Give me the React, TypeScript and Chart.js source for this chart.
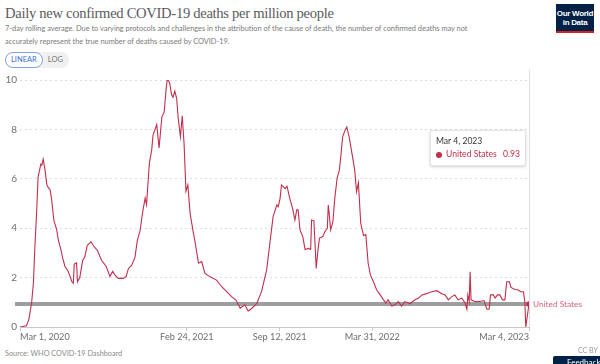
import React, { useEffect, useRef } from "react";
import { Chart, registerables } from "chart.js";

Chart.register(...registerables);

// Days since Mar 1, 2020
const days = [
  0, 14, 19, 25, 29, 32, 36, 39, 45, 47, 50, 54, 58, 61, 65, 68, 73, 79, 83, 88, 92, 97, 104, 112, 115, 117, 122, 124, 129, 135,
  140, 145, 153, 160, 167, 176, 186, 194, 200, 205, 212, 223, 229, 234, 241, 248, 253, 259, 265, 270, 273, 279, 284, 287, 295, 300,
  306, 311, 315, 318, 323, 327, 330, 334, 338, 341, 346, 350, 354, 358, 362, 367, 374, 377, 385, 392, 399, 410, 424, 435, 446, 457,
  466, 475, 485, 492, 500, 511, 521, 532, 539, 546, 554, 557, 561, 564, 572, 576, 582, 588, 593, 597, 600, 604, 610, 615, 622, 627,
  629, 634, 639, 642, 646, 653, 658, 663, 665, 667, 670, 675, 679, 684, 689, 692, 696, 701, 705, 710, 715, 722, 726, 730, 735, 741,
  746, 751, 756, 762, 769, 777, 784, 787, 789, 794, 802, 809, 816, 823, 830, 841, 852, 860, 867, 877, 888, 899, 910, 917, 924, 931,
  938, 945, 953, 960, 964, 966, 969, 971, 973, 981, 992, 1001, 1007, 1012, 1015, 1021, 1025, 1030, 1035, 1041, 1046, 1050, 1056, 1059,
  1068, 1075, 1080, 1086, 1089, 1091, 1098,
];

// Daily new confirmed deaths per million (7-day avg), United States
const deaths = [
  0, 0.05, 0.3, 0.97, 1.8, 3.2, 4.7, 6.07, 6.6, 6.55, 6.8, 6.35, 5.75, 5.65, 5.55, 5.2, 4.33, 3.95, 3.5, 3.15, 2.8, 2.45, 2.25, 1.83, 1.77, 2.55, 2.6, 1.83, 2.0, 2.68,
  2.85, 3.3, 3.45, 3.25, 3.1, 2.7, 2.45, 2.05, 2.25, 2.1, 1.97, 1.97, 2.05, 2.37, 2.5, 2.82, 3.5, 3.9, 4.7, 5.22, 4.95, 6.63, 7.15, 7.77, 8.2, 7.25,
  8.5, 8.7, 9.6, 10.07, 9.87, 9.4, 9.3, 9.55, 9.25, 8.5, 7.7, 8.55, 7.4, 5.5, 5.75, 4.6, 3.8, 3.52, 2.58, 2.65, 2.17, 2.03, 1.9, 1.63, 1.43, 1.22,
  1.09, 0.76, 0.9, 0.65, 0.75, 0.96, 1.43, 2.3, 3.39, 4.47, 4.94, 4.87, 5.2, 5.75, 5.6, 5.7, 5.2, 4.8, 4.33, 4.74, 4.74, 3.93, 3.66, 3.14, 3.18, 3.14,
  4.33, 4.3, 2.37, 2.98, 3.6, 3.66, 3.87, 4.0, 4.94, 4.6, 3.93, 4.27, 5.2, 6.02, 6.36, 6.9, 7.7, 7.96, 8.1, 7.7, 7.15, 6.36, 5.48, 5.84, 4.2, 3.7,
  3.74, 2.58, 2.1, 1.85, 1.52, 1.3, 1.1, 1.03, 0.96, 1.1, 0.85, 0.9, 1.03, 0.85, 1.03, 0.94, 1.1, 1.17, 1.3, 1.35, 1.43, 1.47, 1.35, 1.3, 1.1, 1.22,
  1.3, 1.1, 1.17, 0.97, 0.72, 1.3, 1.03, 2.24, 1.1, 1.03, 1.03, 1.07, 0.72, 0.72, 1.3, 1.3, 1.17, 1.3, 1.3, 1.1, 1.1, 1.83, 1.83, 1.6,
  1.52, 1.5, 1.43, 1.43, 1.03, 0, 0.93,
];

const tickDays = [0, 360, 560, 760, 1098];
const tickLabels = ["Mar 1, 2020", "Feb 24, 2021", "Sep 12, 2021", "Mar 31, 2022", "Mar 4, 2023"];
const yTicks = [0, 2, 4, 6, 8, 10];
const seriesName = "United States";
const hoverValue = 0.93;
const hoverDate = "Mar 4, 2023";

const LINE = "#c22e4c";
const FONT = "Lato, 'Noto Sans', sans-serif";

export default function App() {
  const ref = useRef<HTMLCanvasElement | null>(null);

  useEffect(() => {
    const canvas = ref.current;
    if (!canvas) return;
    const overlay = {
      id: "overlay",
      beforeDatasetsDraw(chart: any) {
        const { ctx, chartArea, scales } = chart;
        const x = scales.x;
        const y = scales.y;
        ctx.save();
        const hx = x.getPixelForValue(days[days.length - 1]);
        ctx.strokeStyle = "#dedede";
        ctx.lineWidth = 1;
        ctx.beginPath();
        ctx.moveTo(hx + 0.5, chartArea.top - 10);
        ctx.lineTo(hx + 0.5, chartArea.bottom);
        ctx.stroke();
        const gy = y.getPixelForValue(hoverValue);
        ctx.strokeStyle = "#9e9e9e";
        ctx.lineWidth = 4;
        ctx.beginPath();
        ctx.moveTo(chartArea.left - 5, gy);
        ctx.lineTo(chartArea.right, gy);
        ctx.stroke();
        ctx.restore();
      },
      afterDraw(chart: any) {
        const { ctx, chartArea, scales } = chart;
        const x = scales.x;
        const y = scales.y;
        ctx.save();
        ctx.font = "9.2px " + FONT;
        ctx.fillStyle = "#6e6e6e";
        ctx.textBaseline = "middle";
        tickDays.forEach((d, i) => {
          const px = x.getPixelForValue(d);
          ctx.textAlign = i === 0 ? "left" : i === tickDays.length - 1 ? "right" : "center";
          ctx.fillText(tickLabels[i], px, chartArea.bottom + 10);
        });
        const lx = x.getPixelForValue(days[days.length - 1]);
        const ly = y.getPixelForValue(deaths[deaths.length - 1]);
        ctx.font = "8.3px " + FONT;
        ctx.fillStyle = "#d0637b";
        ctx.textAlign = "left";
        ctx.fillText(seriesName, lx + 4, ly + 0.5);
        ctx.restore();
      },
    };
    const chart = new Chart(canvas, {
      type: "line",
      data: {
        datasets: [
          {
            label: seriesName,
            data: days.map((d, i) => ({ x: d, y: deaths[i] })),
            borderColor: LINE,
            backgroundColor: LINE,
            borderWidth: 1.1,
            tension: 0,
            pointRadius: (c: any) => (c.dataIndex === days.length - 1 ? 2.8 : 0),
            pointBorderWidth: 0,
          },
        ],
      },
      options: {
        animation: false,
        responsive: false,
        devicePixelRatio: 1,
        layout: { padding: { left: 0, right: 71, top: 10, bottom: 0 } },
        plugins: { legend: { display: false }, tooltip: { enabled: false } },
        events: [],
        scales: {
          x: {
            type: "linear",
            min: days[0],
            max: days[days.length - 1],
            afterBuildTicks: (s: any) => {
              s.ticks = tickDays.map((v) => ({ value: v }));
            },
            afterFit: (s: any) => {
              s.height = 20;
            },
            ticks: { display: false },
            grid: { drawOnChartArea: false, drawTicks: true, tickLength: 4, color: "#c8c8c8" },
            border: { display: true, color: "#c8c8c8" },
          },
          y: {
            min: 0,
            max: 10,
            afterBuildTicks: (s: any) => {
              s.ticks = yTicks.map((v) => ({ value: v }));
            },
            afterFit: (s: any) => {
              s.width = 20;
            },
            ticks: { color: "#6e6e6e", font: { family: FONT, size: 10 }, padding: 3 },
            grid: { color: "#dcdcdc", drawTicks: false, lineWidth: 1 },
            border: { display: false, dash: [2, 3] },
          },
        },
      },
      plugins: [overlay],
    } as any);
    return () => chart.destroy();
  }, []);

  return (
    <div
      style={{
        position: "fixed",
        left: 0,
        top: 0,
        width: 600,
        height: 364,
        background: "#fff",
        overflow: "hidden",
        fontFamily: FONT,
      }}
    >
      <div
        style={{
          position: "absolute",
          left: 5,
          top: 5,
          fontFamily: "'Liberation Serif', 'DejaVu Serif', serif",
          fontSize: 14.6,
          color: "#5b5b5b",
          whiteSpace: "nowrap",
          letterSpacing: -0.3,
        }}
      >
        Daily new confirmed COVID-19 deaths per million people
      </div>
      <div
        style={{
          position: "absolute",
          left: 5,
          top: 23,
          width: 475,
          fontSize: 7.4,
          lineHeight: "12.5px",
          color: "#7a7a7a",
        }}
      >
        7-day rolling average. Due to varying protocols and challenges in the attribution of the cause of death, the number of confirmed deaths may not accurately represent the true number of deaths caused by COVID-19.
      </div>
      <div
        style={{
          position: "absolute",
          left: 5,
          top: 52,
          height: 16,
          display: "flex",
          borderRadius: 9,
          background: "#f0f0f0",
          fontSize: 7.5,
          lineHeight: "16px",
        }}
      >
        <div
          style={{
            border: "1px solid #7fa3e6",
            borderRadius: 9,
            background: "#fff",
            color: "#3a6fd6",
            padding: "0 5px",
            lineHeight: "14px",
          }}
        >
          LINEAR
        </div>
        <div style={{ color: "#777", padding: "0 6px 0 5px" }}>LOG</div>
      </div>
      <div
        style={{
          position: "absolute",
          left: 556,
          top: 4,
          width: 38,
          height: 29,
          background: "#002147",
          borderBottom: "2px solid #ce261e",
          color: "#fff",
          fontSize: 8,
          lineHeight: "9px",
          textAlign: "center",
          fontFamily: "'Liberation Sans', Arial, sans-serif",
          fontWeight: 600,
          paddingTop: 5,
          boxSizing: "border-box",
          letterSpacing: -0.3,
        }}
      >
        Our World
        <br />
        in Data
      </div>
      <canvas
        ref={ref}
        width={600}
        height={277}
        style={{ position: "absolute", left: 0, top: 70, width: 600, height: 277 }}
      />
      <div
        style={{
          position: "absolute",
          left: 430,
          top: 130,
          width: 96,
          height: 36,
          background: "#fff",
          border: "1px solid #e4e4e4",
          boxShadow: "0 1px 3px rgba(0,0,0,0.18)",
          borderRadius: 2,
          boxSizing: "border-box",
          fontSize: 8.6,
        }}
      >
        <div style={{ position: "absolute", left: 5, top: 5, color: "#333" }}>{hoverDate}</div>
        <div
          style={{
            position: "absolute",
            left: 5,
            top: 21,
            width: 6,
            height: 6,
            borderRadius: 3,
            background: LINE,
          }}
        />
        <div style={{ position: "absolute", left: 15, top: 18, color: "#c22e4c" }}>{seriesName}</div>
        <div style={{ position: "absolute", right: 5, top: 18, color: "#c22e4c" }}>{hoverValue.toFixed(2)}</div>
      </div>
      <div style={{ position: "absolute", left: 5, top: 349, fontSize: 7.3, color: "#8a8a8a" }}>
        Source: WHO COVID-19 Dashboard
      </div>
      <div style={{ position: "absolute", left: 578, top: 346, fontSize: 7, color: "#999" }}>CC BY</div>
      <div
        style={{
          position: "absolute",
          left: 553,
          top: 356,
          width: 60,
          height: 14,
          background: "#002147",
          borderRadius: 2,
          color: "#fff",
          fontSize: 8,
          paddingLeft: 14,
          boxSizing: "border-box",
          lineHeight: "12px",
        }}
      >
        Feedback
      </div>
    </div>
  );
}
